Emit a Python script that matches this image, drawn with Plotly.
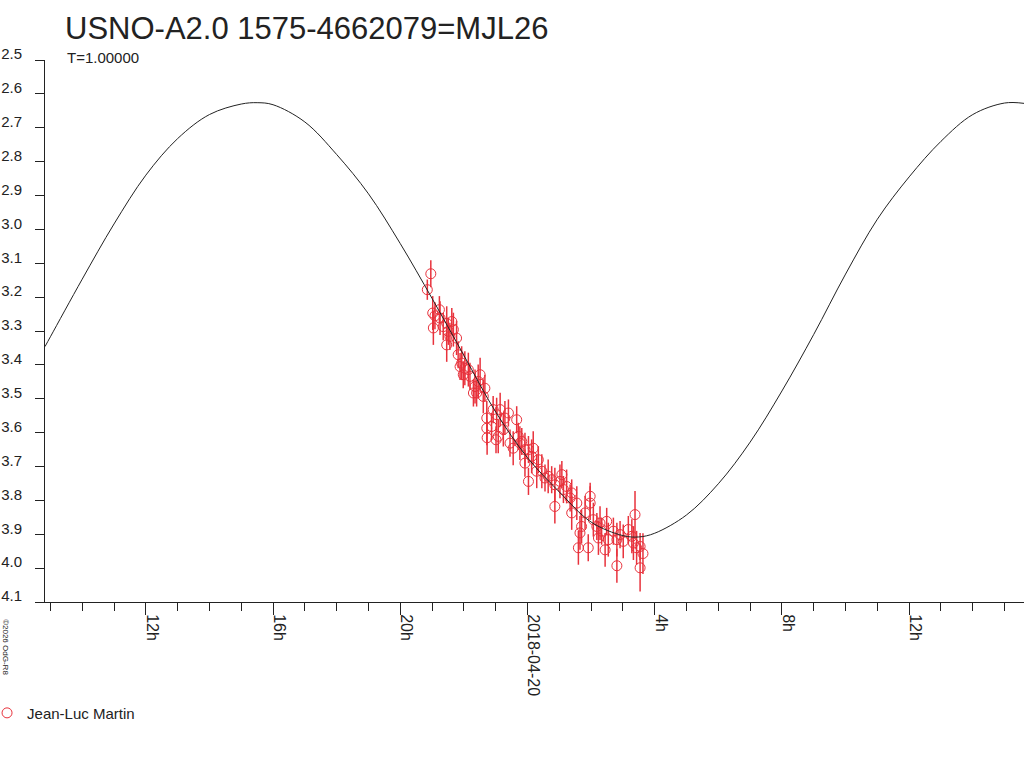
import pandas as pd
import plotly.graph_objects as go

# light curve of USNO-A2.0 1575-4662079 (MJL26), times in hours from 2018-04-20 00:00 UT
REF_DAY = pd.Timestamp("2018-04-20 00:00")

fit_hours = [-15.17, -15, -14, -13, -12, -11, -10, -9, -8.5, -8, -7, -6, -5, -4, -3,
             -2, -1, 0, 1, 2, 3, 3.5, 4, 5, 6, 7, 8, 9, 10, 11, 12, 13, 14, 15, 15.61]
fit_mags = [3.346, 3.317, 3.147, 2.984, 2.840, 2.732, 2.661, 2.630, 2.626, 2.632, 2.683,
            2.779, 2.895, 3.042, 3.204, 3.372, 3.539, 3.674, 3.775, 3.864, 3.904, 3.908,
            3.897, 3.843, 3.751, 3.628, 3.477, 3.310, 3.132, 2.970, 2.845, 2.740, 2.661,
            2.627, 2.628]

obs_hours = [-3.15, -3.04, -2.98, -2.91, -2.77, -2.96, -2.75, -2.65, -2.54, -2.38,
             -2.33, -2.49, -2.23, -2.54, -2.44, -2.18, -2.07, -2.12, -1.97, -2.02,
             -1.86, -1.81, -1.65, -1.70, -1.49, -1.55, -1.34, -1.60, -1.39, -1.28,
             -1.08, -0.97, -1.28, -1.13, -1.27, -0.99, -0.86, -0.71, -0.60, -0.34,
             -0.92, -0.76, -0.55, -0.45, -0.29, -0.24, -0.18, -0.08, 0.03, 0.18,
             -0.08, 0.13, 0.34, 0.03, 0.29, 0.45, 0.55, 0.65, 0.76, 0.86,
             1.08, 1.02, 0.86, 1.13, 1.23, 1.34, 1.39, 1.55, 1.97, 1.97,
             1.81, 1.65, 1.60, 1.91, 1.70, 2.07, 2.18, 2.28, 2.33, 2.23,
             2.49, 2.44, 2.54, 2.70, 2.81, 2.91, 3.01, 3.17, 3.28, 3.38,
             3.33, 3.43, 3.54, 3.54, 3.63, 2.81, 1.39]
obs_mags = [3.178, 3.131, 3.247, 3.255, 3.237, 3.291, 3.262, 3.287, 3.277, 3.272,
            3.296, 3.301, 3.321, 3.341, 3.316, 3.370, 3.395, 3.405, 3.410, 3.429,
            3.414, 3.434, 3.464, 3.483, 3.429, 3.449, 3.469, 3.483, 3.493, 3.557,
            3.532, 3.547, 3.587, 3.582, 3.615, 3.621, 3.532, 3.557, 3.542, 3.562,
            3.611, 3.591, 3.631, 3.646, 3.611, 3.631, 3.626, 3.650, 3.650, 3.646,
            3.690, 3.670, 3.680, 3.744, 3.714, 3.714, 3.734, 3.729, 3.739, 3.754,
            3.724, 3.744, 3.818, 3.768, 3.759, 3.793, 3.837, 3.808, 3.788, 3.808,
            3.837, 3.896, 3.940, 3.940, 3.877, 3.857, 3.877, 3.867, 3.891, 3.911,
            3.862, 3.946, 3.916, 3.891, 3.916, 3.901, 3.921, 3.886, 3.906, 3.842,
            3.926, 3.940, 3.936, 3.999, 3.957, 3.993, 3.778]
obs_errs = [0.03, 0.04, 0.05, 0.04, 0.04, 0.05, 0.05, 0.04, 0.05, 0.04,
            0.05, 0.04, 0.05, 0.05, 0.04, 0.04, 0.05, 0.04, 0.05, 0.04,
            0.05, 0.04, 0.05, 0.04, 0.05, 0.05, 0.04, 0.04, 0.05, 0.05,
            0.04, 0.05, 0.05, 0.04, 0.05, 0.04, 0.05, 0.05, 0.04, 0.04,
            0.05, 0.05, 0.04, 0.05, 0.04, 0.05, 0.04, 0.05, 0.04, 0.05,
            0.04, 0.05, 0.04, 0.04, 0.05, 0.05, 0.04, 0.05, 0.04, 0.05,
            0.04, 0.05, 0.05, 0.04, 0.05, 0.04, 0.05, 0.05, 0.04, 0.05,
            0.05, 0.05, 0.05, 0.04, 0.05, 0.05, 0.04, 0.05, 0.04, 0.05,
            0.04, 0.05, 0.05, 0.04, 0.05, 0.04, 0.05, 0.04, 0.05, 0.07,
            0.05, 0.05, 0.04, 0.07, 0.06, 0.05, 0.04]

tick_hours = [-12, -8, -4, 0, 4, 8, 12]
tick_text = ["12h", "16h", "20h", "2018-04-20", "4h", "8h", "12h"]
x_range_hours = [-15.17, 15.61]
y_range = [4.1, 2.5]

observer = "Jean-Luc Martin"
title = "USNO-A2.0 1575-4662079=MJL26"
period_label = "T=1.00000"
credit = "©2026 OdG-R8"


def to_time(hours):
    return REF_DAY + pd.to_timedelta(pd.Series(hours), unit="h")


FONT = "Liberation Sans, Arial, sans-serif"
RED = "#e8323c"
INK = "#222222"

fig = go.Figure()

fig.add_trace(go.Scatter(
    x=to_time(obs_hours), y=obs_mags,
    mode="markers", name=observer,
    marker=dict(symbol="circle-open", size=10, color=RED, line=dict(width=1, color=RED)),
    error_y=dict(type="data", array=obs_errs, visible=True, color=RED, thickness=1.5, width=0),
))

fig.add_trace(go.Scatter(
    x=to_time(fit_hours), y=fit_mags,
    mode="lines", line=dict(color=INK, width=1, shape="spline", smoothing=1),
    showlegend=False, hoverinfo="skip",
))

fig.update_xaxes(
    type="date",
    range=list(to_time(x_range_hours)),
    tickvals=list(to_time(tick_hours)), ticktext=tick_text,
    tickangle=90, ticks="outside", ticklen=12, tickcolor=INK, tickwidth=1,
    ticklabelshift=6, ticklabelstandoff=-4,
    minor=dict(dtick=3600000, tick0="2018-04-19 00:00", ticks="outside", ticklen=8,
               tickcolor=INK, tickwidth=1, showgrid=False),
    showline=True, linecolor=INK, linewidth=1,
    showgrid=False, zeroline=False,
    tickfont=dict(family=FONT, size=16, color=INK),
)
fig.update_yaxes(
    range=y_range, dtick=0.1, tick0=2.5, tickformat=".1f",
    ticks="outside", ticklen=9, tickcolor=INK, tickwidth=1,
    ticklabelstandoff=10, ticklabelshift=6,
    showline=True, linecolor=INK, linewidth=1,
    showgrid=False, zeroline=False,
    tickfont=dict(family=FONT, size=15, color=INK),
)

fig.update_layout(
    width=1024, height=768,
    margin=dict(l=45, r=0, t=60, b=166, autoexpand=False),
    paper_bgcolor="white", plot_bgcolor="white",
    title=dict(text=title, xref="container", yref="container", x=65 / 1024, y=1 - 28 / 768,
               xanchor="left", yanchor="middle", font=dict(family=FONT, size=31, color=INK)),
    legend=dict(x=-0.0592, y=-0.205, xanchor="left", yanchor="middle",
                font=dict(family=FONT, size=15, color=INK), bgcolor="rgba(0,0,0,0)"),
    annotations=[
        dict(text=period_label, xref="paper", yref="paper", x=0.0204, y=1.004,
             xanchor="left", yanchor="middle", showarrow=False,
             font=dict(family=FONT, size=15, color=INK)),
        dict(text=credit, xref="paper", yref="paper", x=-0.041, y=-0.083,
             xanchor="center", yanchor="middle", showarrow=False, textangle=90,
             font=dict(family=FONT, size=8, color=INK)),
    ],
    hovermode="closest",
)

# the page's default body margin would push the 1024x768 figure off by 8px
fig.write_html("out.html", config={"displayModeBar": False},
               post_script="document.body.style.margin = '0';")
